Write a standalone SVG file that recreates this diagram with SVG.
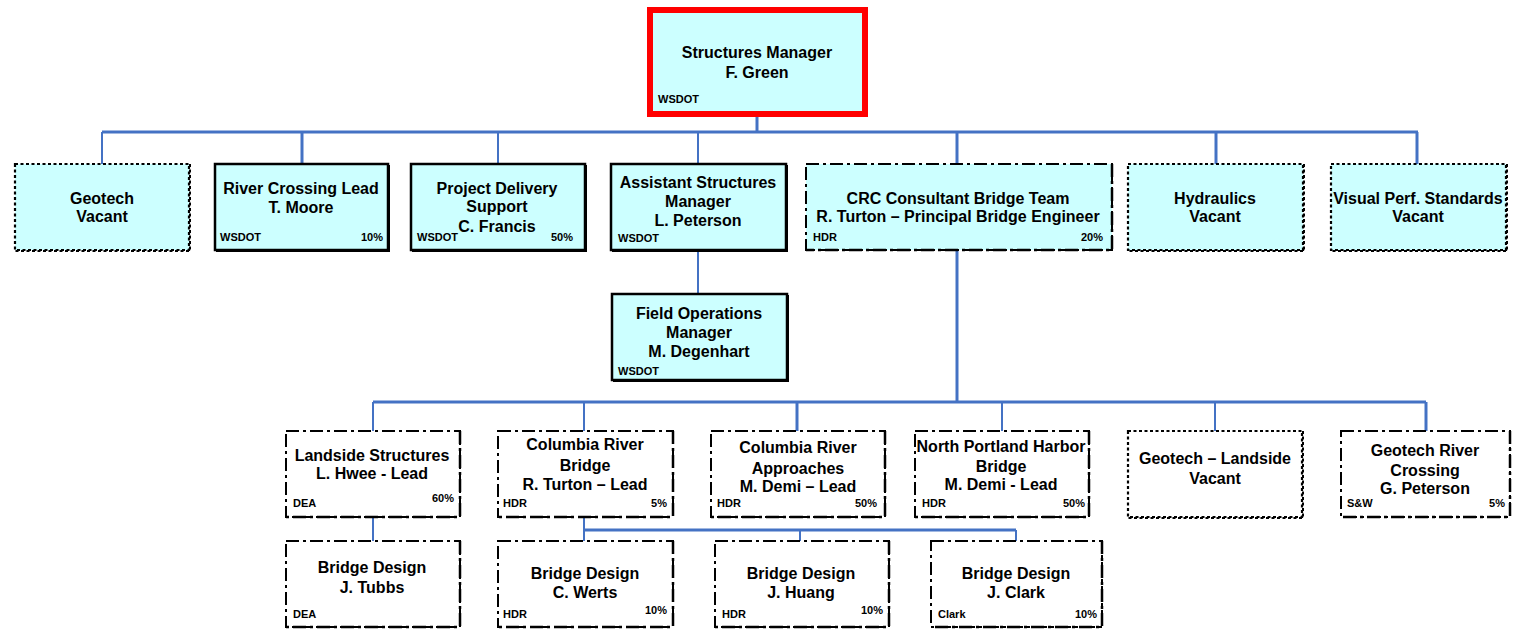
<svg xmlns="http://www.w3.org/2000/svg" width="1513" height="631" viewBox="0 0 1513 631">
  <style>
    .t { font-family: "Liberation Sans", Arial, sans-serif; font-weight: bold; font-size: 16px; fill: #000; text-anchor: middle; }
    .s { font-family: "Liberation Sans", Arial, sans-serif; font-weight: bold; font-size: 11px; fill: #000; }
    .r { text-anchor: end; }
    .cyan { fill: #ccffff; }
    .white { fill: #ffffff; }
    .solid { stroke: #000; stroke-width: 2.5; }
    .solidEdge { fill: none; stroke: #000; stroke-width: 2; }
    .dot { stroke: #000; stroke-width: 2.2; stroke-dasharray: 3 2.5; }
    .dotEdge { fill: none; stroke: #000; stroke-width: 2; stroke-dasharray: 3 2.5; }
    .dd { stroke: #000; stroke-width: 2; stroke-dasharray: 13 4 3 4; }
    .ddEdge { fill: none; stroke: #000; stroke-width: 2.5; stroke-dasharray: 13 4 3 4; }
    .ln { fill: none; stroke: #4472c4; stroke-width: 3; }
    .lt { fill: none; stroke: #4472c4; stroke-width: 2; }
  </style>

  <rect width="1513" height="631" fill="#ffffff"/>

  <!-- connectors -->
  <g id="connectors">
    <path class="ln" d="M757 114 V132"/>
    <path class="ln" d="M102 132 H1418"/>
    <path class="lt" d="M102 132 V164"/>
    <path class="ln" d="M302 132 V164"/>
    <path class="lt" d="M498 132 V164"/>
    <path class="lt" d="M698 132 V164"/>
    <path class="ln" d="M957 132 V164"/>
    <path class="ln" d="M1216 132 V164"/>
    <path class="ln" d="M1417 132 V164"/>
    <path class="lt" d="M698 250 V294"/>
    <path class="ln" d="M957 250 V402"/>
    <path class="ln" d="M373 402 H1426"/>
    <path class="lt" d="M373 402 V431"/>
    <path class="lt" d="M584 402 V431"/>
    <path class="ln" d="M797 402 V431"/>
    <path class="lt" d="M1002 402 V431"/>
    <path class="lt" d="M1215 402 V431"/>
    <path class="ln" d="M1426 402 V431"/>
    <path class="lt" d="M373 517 V541"/>
    <path class="lt" d="M584 517 V541"/>
    <path class="ln" d="M584 530 H1016"/>
    <path class="lt" d="M800 530 V541"/>
    <path class="lt" d="M1016 530 V541"/>
  </g>

  <!-- top level -->
  <g id="structures-manager">
    <rect x="650" y="10" width="215" height="104" class="cyan" stroke="#ff0000" stroke-width="6"/>
    <text class="t" x="757" y="58">Structures Manager</text>
    <text class="t" x="757" y="78">F. Green</text>
    <text class="s" x="658" y="103">WSDOT</text>
  </g>

  <!-- first row -->
  <g id="geotech">
    <rect x="15" y="164" width="174" height="86" class="cyan dot"/>
    <path class="dotEdge" d="M190 164 V251 H15"/>
    <text class="t" x="102" y="204">Geotech</text>
    <text class="t" x="102" y="222">Vacant</text>
  </g>

  <g id="river-crossing-lead">
    <rect x="215" y="164" width="173" height="86" class="cyan solid"/>
    <path class="solidEdge" d="M389 165 V251 H216"/>
    <text class="t" x="301" y="194">River Crossing Lead</text>
    <text class="t" x="301" y="213">T. Moore</text>
    <text class="s" x="220" y="241">WSDOT</text>
    <text class="s r" x="383" y="241">10%</text>
  </g>

  <g id="project-delivery">
    <rect x="411" y="164" width="174" height="86" class="cyan solid"/>
    <path class="solidEdge" d="M586 165 V251 H412"/>
    <text class="t" x="497" y="194">Project Delivery</text>
    <text class="t" x="497" y="212">Support</text>
    <text class="t" x="497" y="232">C. Francis</text>
    <text class="s" x="417" y="241">WSDOT</text>
    <text class="s r" x="573" y="241">50%</text>
  </g>

  <g id="assistant-manager">
    <rect x="611" y="164" width="175" height="86" class="cyan solid"/>
    <path class="solidEdge" d="M787 165 V251 H612"/>
    <text class="t" x="698" y="188">Assistant Structures</text>
    <text class="t" x="698" y="207">Manager</text>
    <text class="t" x="698" y="226">L. Peterson</text>
    <text class="s" x="618" y="242">WSDOT</text>
  </g>

  <g id="crc-bridge-team">
    <rect x="806" y="164" width="306" height="86" class="cyan dd"/>
    <path class="ddEdge" d="M1112 164 V250 H806"/>
    <text class="t" x="958" y="204">CRC Consultant Bridge Team</text>
    <text class="t" x="958" y="222">R. Turton – Principal Bridge Engineer</text>
    <text class="s" x="813" y="241">HDR</text>
    <text class="s r" x="1103" y="241">20%</text>
  </g>

  <g id="hydraulics">
    <rect x="1128" y="164" width="175" height="86" class="cyan dot"/>
    <path class="dotEdge" d="M1304 164 V251 H1128"/>
    <text class="t" x="1215" y="204">Hydraulics</text>
    <text class="t" x="1215" y="222">Vacant</text>
  </g>

  <g id="visual-standards">
    <rect x="1331" y="164" width="175" height="86" class="cyan dot"/>
    <path class="dotEdge" d="M1507 164 V251 H1331"/>
    <text class="t" x="1418" y="204">Visual Perf. Standards</text>
    <text class="t" x="1418" y="222">Vacant</text>
  </g>

  <g id="field-operations">
    <rect x="612" y="294" width="175" height="86" class="cyan solid"/>
    <path class="solidEdge" d="M788 295 V381 H613"/>
    <text class="t" x="699" y="319">Field Operations</text>
    <text class="t" x="699" y="338">Manager</text>
    <text class="t" x="699" y="357">M. Degenhart</text>
    <text class="s" x="618" y="375">WSDOT</text>
  </g>

  <!-- consultant team -->
  <g id="landside-structures">
    <rect x="286" y="431" width="174" height="86" class="white dd"/>
    <path class="ddEdge" d="M460 431 V517 H286"/>
    <text class="t" x="372" y="461">Landside Structures</text>
    <text class="t" x="372" y="479">L.  Hwee - Lead</text>
    <text class="s" x="293" y="507">DEA</text>
    <text class="s r" x="454" y="502">60%</text>
  </g>

  <g id="columbia-bridge">
    <rect x="498" y="431" width="175" height="86" class="white dd"/>
    <path class="ddEdge" d="M673 431 V517 H498"/>
    <text class="t" x="585" y="450">Columbia River</text>
    <text class="t" x="585" y="471">Bridge</text>
    <text class="t" x="585" y="490">R. Turton – Lead</text>
    <text class="s" x="503" y="507">HDR</text>
    <text class="s r" x="667" y="507">5%</text>
  </g>

  <g id="columbia-approaches">
    <rect x="711" y="431" width="174" height="86" class="white dd"/>
    <path class="ddEdge" d="M885 431 V517 H711"/>
    <text class="t" x="798" y="453">Columbia River</text>
    <text class="t" x="798" y="474">Approaches</text>
    <text class="t" x="798" y="492">M. Demi – Lead</text>
    <text class="s" x="717" y="507">HDR</text>
    <text class="s r" x="877" y="507">50%</text>
  </g>

  <g id="north-portland-harbor">
    <rect x="915" y="431" width="174" height="86" class="white dd"/>
    <path class="ddEdge" d="M1089 431 V517 H915"/>
    <text class="t" x="1001" y="452">North Portland Harbor</text>
    <text class="t" x="1001" y="472">Bridge</text>
    <text class="t" x="1001" y="490">M. Demi - Lead</text>
    <text class="s" x="922" y="507">HDR</text>
    <text class="s r" x="1085" y="507">50%</text>
  </g>

  <g id="geotech-landside">
    <rect x="1128" y="431" width="174" height="86" class="white dot"/>
    <path class="dotEdge" d="M1303 431 V518 H1128"/>
    <text class="t" x="1215" y="464">Geotech – Landside</text>
    <text class="t" x="1215" y="484">Vacant</text>
  </g>

  <g id="geotech-river-crossing">
    <rect x="1341" y="431" width="169" height="86" class="white dd"/>
    <path class="ddEdge" d="M1510 431 V517 H1341"/>
    <text class="t" x="1425" y="456">Geotech River</text>
    <text class="t" x="1425" y="476">Crossing</text>
    <text class="t" x="1425" y="494">G. Peterson</text>
    <text class="s" x="1347" y="507">S&amp;W</text>
    <text class="s r" x="1505" y="507">5%</text>
  </g>

  <!-- bridge design -->
  <g id="design-tubbs">
    <rect x="286" y="541" width="174" height="86" class="white dd"/>
    <path class="ddEdge" d="M460 541 V627 H286"/>
    <text class="t" x="372" y="573">Bridge Design</text>
    <text class="t" x="372" y="593">J. Tubbs</text>
    <text class="s" x="293" y="618">DEA</text>
  </g>

  <g id="design-werts">
    <rect x="498" y="541" width="175" height="86" class="white dd"/>
    <path class="ddEdge" d="M673 541 V627 H498"/>
    <text class="t" x="585" y="579">Bridge Design</text>
    <text class="t" x="585" y="598">C. Werts</text>
    <text class="s" x="503" y="618">HDR</text>
    <text class="s r" x="667" y="614">10%</text>
  </g>

  <g id="design-huang">
    <rect x="715" y="541" width="174" height="86" class="white dd"/>
    <path class="ddEdge" d="M889 541 V627 H715"/>
    <text class="t" x="801" y="579">Bridge Design</text>
    <text class="t" x="801" y="598">J. Huang</text>
    <text class="s" x="722" y="618">HDR</text>
    <text class="s r" x="883" y="614">10%</text>
  </g>

  <g id="design-clark">
    <rect x="931" y="541" width="171" height="86" class="white dd"/>
    <path class="ddEdge" d="M1102 541 V627 H931"/>
    <text class="t" x="1016" y="579">Bridge Design</text>
    <text class="t" x="1016" y="598">J. Clark</text>
    <text class="s" x="938" y="618">Clark</text>
    <text class="s r" x="1097" y="618">10%</text>
  </g>
</svg>
